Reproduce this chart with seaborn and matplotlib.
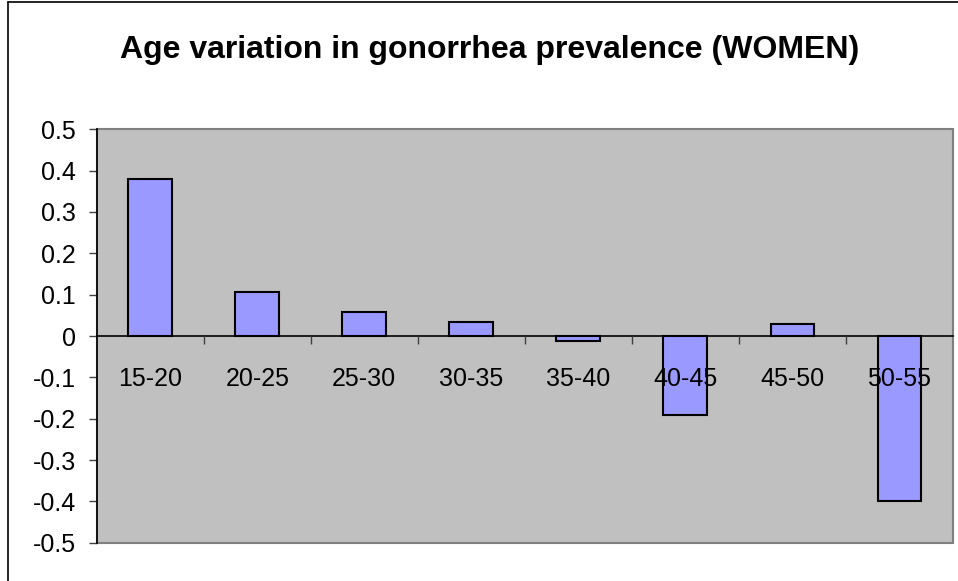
import matplotlib
matplotlib.use("Agg")
import matplotlib.pyplot as plt
from matplotlib.lines import Line2D
import seaborn as sns

categories = ["15-20", "20-25", "25-30", "30-35", "35-40", "40-45", "45-50", "50-55"]
values = [0.38, 0.107, 0.057, 0.033, -0.013, -0.192, 0.03, -0.40]
yticks = [0.5, 0.4, 0.3, 0.2, 0.1, 0, -0.1, -0.2, -0.3, -0.4, -0.5]
ytick_labels = ["0.5", "0.4", "0.3", "0.2", "0.1", "0", "-0.1", "-0.2", "-0.3", "-0.4", "-0.5"]
title = "Age variation in gonorrhea prevalence (WOMEN)"

sns.set_style("white")
plt.rcParams["font.family"] = ["Liberation Sans", "DejaVu Sans"]
plt.rcParams["text.color"] = "black"
plt.rcParams["xtick.labelcolor"] = "black"
plt.rcParams["ytick.labelcolor"] = "black"

fig = plt.figure(figsize=(9.58, 5.81), dpi=100)
ax = fig.add_axes([96.7 / 958, 1 - 542.7 / 581, (953 - 96.7) / 958, (542.7 - 129.3) / 581])

sns.barplot(x=categories, y=values, color="#9999FF", saturation=1, edgecolor="black",
            linewidth=1.5, width=0.41, ax=ax, zorder=2)

ax.set_facecolor("#C0C0C0")
ax.patch.set_edgecolor("#808080")
ax.patch.set_linewidth(1.5)
ax.set_ylim(-0.5, 0.5)
ax.set_xlim(-0.5, len(categories) - 0.5)
ax.set_yticks(yticks)
ax.set_yticklabels(ytick_labels, fontsize=18, color="black")
ax.set_xlabel("")
ax.set_ylabel("")

for s in ["top", "right"]:
    ax.spines[s].set_visible(False)
ax.spines["left"].set_color("black")
ax.spines["left"].set_linewidth(1.2)
ax.spines["bottom"].set_position(("data", 0))
ax.spines["bottom"].set_color("black")
ax.spines["bottom"].set_linewidth(1.2)
ax.spines["bottom"].set_zorder(3)

ax.tick_params(axis="y", direction="out", length=6, width=1, color="#404040", pad=9,
               left=True, labelcolor="black")
ax.set_xticks(range(len(categories)))
ax.set_xticklabels(categories, fontsize=18, color="black")
ax.set_xticks([i + 0.5 for i in range(len(categories) - 1)], minor=True)
ax.tick_params(axis="x", which="major", length=0, pad=22, bottom=True, labelcolor="black")
ax.tick_params(axis="x", which="minor", direction="out", length=6, width=1, color="#404040", bottom=True)
ax.xaxis.set_zorder(5)

fig.text(0.511, 1 - 58 / 581, title, ha="center", va="baseline", fontsize=23,
         fontweight="bold", color="black")

# outer chart border (left and top edges visible)
fig.add_artist(Line2D([7.5 / 958, 7.5 / 958], [0, 1 - 1.5 / 581], color="black", lw=1.2, transform=fig.transFigure))
fig.add_artist(Line2D([7.5 / 958, 1], [1 - 1.5 / 581, 1 - 1.5 / 581], color="black", lw=1.2, transform=fig.transFigure))

fig.savefig("out.png", dpi=100)
